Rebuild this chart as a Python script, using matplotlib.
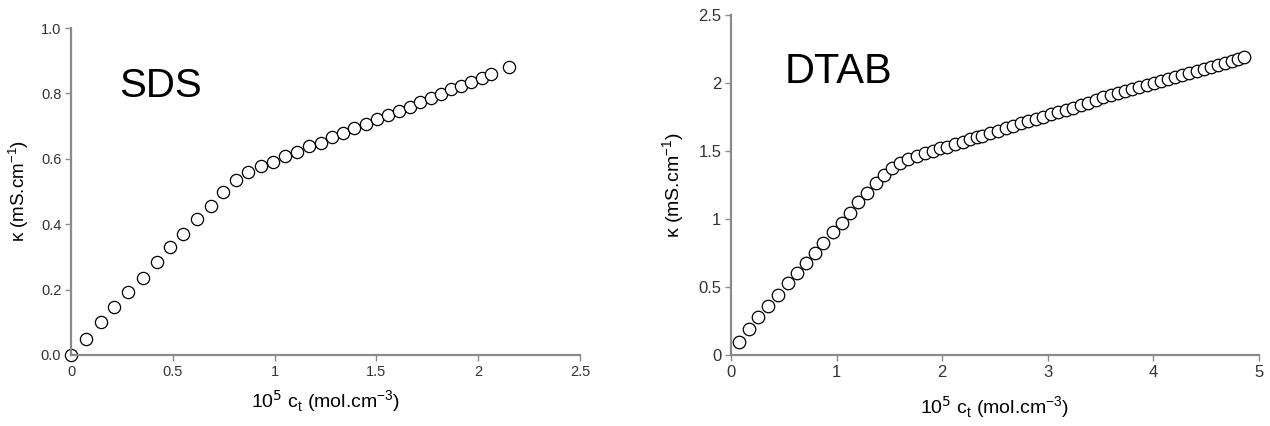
import matplotlib
matplotlib.use("Agg")
import matplotlib.pyplot as plt
from matplotlib.ticker import FixedLocator, FixedFormatter

plt.rcParams['font.family'] = ['Liberation Sans', 'DejaVu Sans']

# SDS conductivity vs concentration
sds_c = [0, 0.074, 0.146, 0.213, 0.282, 0.352, 0.421, 0.486, 0.552, 0.620, 0.686,
         0.745, 0.81, 0.869, 0.932, 0.99, 1.051, 1.111, 1.170, 1.226, 1.283, 1.337,
         1.391, 1.449, 1.504, 1.558, 1.611, 1.665, 1.714, 1.767, 1.817, 1.866, 1.916,
         1.965, 2.017, 2.063, 2.153]
sds_k = [0, 0.05, 0.10, 0.147, 0.194, 0.237, 0.283, 0.329, 0.37, 0.415, 0.456,
         0.499, 0.535, 0.56, 0.578, 0.591, 0.609, 0.622, 0.639, 0.649, 0.666, 0.678,
         0.693, 0.706, 0.721, 0.734, 0.746, 0.759, 0.775, 0.787, 0.797, 0.813, 0.823,
         0.836, 0.848, 0.859, 0.880]

# DTAB conductivity vs concentration
dtab_c = [0.079, 0.173, 0.259, 0.353, 0.448, 0.537, 0.622, 0.710, 0.795, 0.874,
          0.963, 1.048, 1.127, 1.206, 1.285, 1.370, 1.452, 1.522, 1.600, 1.679,
          1.758, 1.837, 1.910, 1.979, 2.049, 2.121, 2.194, 2.263, 2.327, 2.374,
          2.453, 2.525, 2.601, 2.674, 2.743, 2.816, 2.888, 2.958, 3.030, 3.100,
          3.172, 3.242, 3.314, 3.384, 3.456, 3.526, 3.598, 3.662, 3.731, 3.797,
          3.867, 3.936, 4.003, 4.072, 4.138, 4.208, 4.274, 4.340, 4.410, 4.476,
          4.545, 4.612, 4.678, 4.747, 4.804, 4.858]
dtab_k = [0.098, 0.189, 0.277, 0.360, 0.441, 0.527, 0.601, 0.679, 0.752, 0.826,
          0.902, 0.973, 1.046, 1.127, 1.193, 1.262, 1.324, 1.373, 1.409, 1.439,
          1.463, 1.483, 1.502, 1.520, 1.532, 1.549, 1.569, 1.586, 1.600, 1.610,
          1.630, 1.647, 1.667, 1.684, 1.704, 1.721, 1.738, 1.752, 1.770, 1.787,
          1.801, 1.818, 1.836, 1.855, 1.875, 1.895, 1.912, 1.929, 1.94, 1.955,
          1.97, 1.985, 2.00, 2.015, 2.03, 2.045, 2.06, 2.075, 2.09, 2.105,
          2.12, 2.135, 2.15, 2.165, 2.18, 2.19]

sds_xticks = [0, 0.5, 1, 1.5, 2, 2.5]
sds_xlabels = ["0", "0.5", "1", "1.5", "2", "2.5"]
sds_yticks = [0, 0.2, 0.4, 0.6, 0.8, 1.0]
sds_ylabels = ["0.0", "0.2", "0.4", "0.6", "0.8", "1.0"]
dtab_xticks = [0, 1, 2, 3, 4, 5]
dtab_xlabels = ["0", "1", "2", "3", "4", "5"]
dtab_yticks = [0, 0.5, 1, 1.5, 2, 2.5]
dtab_ylabels = ["0", "0.5", "1", "1.5", "2", "2.5"]

xlabel = r"10$^{5}$ c$_{\mathregular{t}}$ (mol.cm$^{\mathregular{-3}}$)"
ylabel = r"κ (mS.cm$^{\mathregular{-1}}$)"

W, H = 1270, 426
fig = plt.figure(figsize=(W / 100, H / 100), dpi=100)
ax1 = fig.add_axes([71 / W, 1 - 355 / H, (580 - 71) / W, (355 - 28) / H])
ax2 = fig.add_axes([731 / W, 1 - 355 / H, (1259 - 731) / W, (355 - 15) / H])

spine_col = "#8a8a8a"


def style(ax, xt, xl, yt, yl, fs):
    for s in ("top", "right"):
        ax.spines[s].set_visible(False)
    for s in ("left", "bottom"):
        ax.spines[s].set_color(spine_col)
        ax.spines[s].set_linewidth(1.6)
    ax.xaxis.set_major_locator(FixedLocator(xt))
    ax.xaxis.set_major_formatter(FixedFormatter(xl))
    ax.yaxis.set_major_locator(FixedLocator(yt))
    ax.yaxis.set_major_formatter(FixedFormatter(yl))
    ax.tick_params(direction="out", length=4, width=1, color=spine_col,
                   labelsize=fs, labelcolor="#333333", pad=3)


ax1.plot(sds_c, sds_k, "o", ms=8.8, mfc="white", mec="black", mew=0.9, clip_on=False)
ax1.set_xlim(0, 2.5)
ax1.set_ylim(0, 1.0)
style(ax1, sds_xticks, sds_xlabels, sds_yticks, sds_ylabels, 10.5)
ax1.set_xlabel(xlabel, fontsize=14, labelpad=7)
ax1.set_ylabel(ylabel, fontsize=13.5, labelpad=7)

ax2.plot(dtab_c, dtab_k, "o", ms=9.0, mfc="white", mec="black", mew=0.9, clip_on=False)
ax2.set_xlim(0, 5)
ax2.set_ylim(0, 2.5)
style(ax2, dtab_xticks, dtab_xlabels, dtab_yticks, dtab_ylabels, 12)
ax2.set_xlabel(xlabel, fontsize=14, labelpad=10)
ax2.set_ylabel(ylabel, fontsize=14, labelpad=8)

fig.text(119 / W, 1 - 97 / H, "SDS", fontsize=29, va="baseline", ha="left")
fig.text(785 / W, 1 - 83 / H, "DTAB", fontsize=30, va="baseline", ha="left")

fig.savefig("out.png", dpi=100)
